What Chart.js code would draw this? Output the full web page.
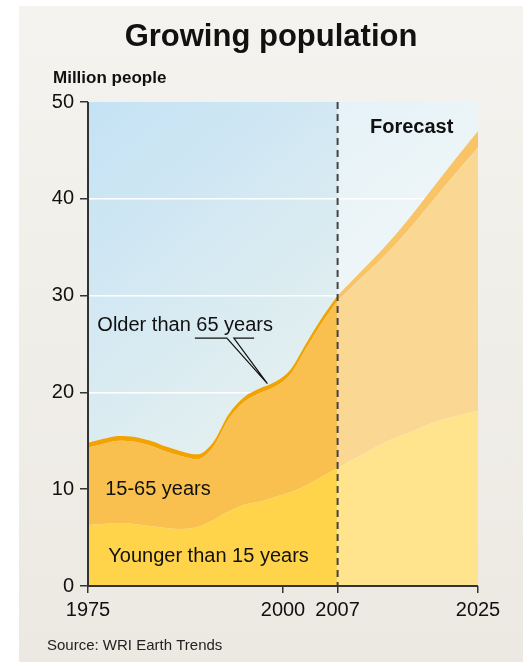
<!DOCTYPE html>
<html>
<head>
<meta charset="utf-8">
<script src="https://cdn.jsdelivr.net/npm/chart.js@4"></script>
<style>
html, body { margin: 0; padding: 0; background: #fff; }
#panel { position: absolute; left: 19px; top: 6px; width: 504px; height: 656px; background: linear-gradient(#f4f3ef, #ece9e2); }
#myChart { position: absolute; left: 0; top: 0; }
</style>
</head>
<body>
<div id="panel"></div>
<canvas id="myChart" width="523" height="662"></canvas>
<script>
// values in million people
var tickYears = [1975, 2000, 2007, 2025];
var forecastStart = 2007;

var histYears   = [1975, 1977, 1979, 1981, 1983, 1985, 1987, 1989, 1991, 1993, 1995, 1997, 1999, 2001, 2003, 2005, 2007];
var histYoung   = [6.3, 6.4, 6.5, 6.4, 6.2, 6.0, 5.9, 6.1, 6.8, 7.7, 8.4, 8.7, 9.2, 9.7, 10.4, 11.3, 12.2];
var histWorking = [8.0, 8.3, 8.5, 8.5, 8.3, 7.9, 7.5, 7.0, 7.5, 9.5, 10.6, 11.2, 11.4, 12.2, 14.2, 15.9, 17.3];
var histOlder   = [0.5, 0.5, 0.5, 0.5, 0.5, 0.5, 0.5, 0.5, 0.5, 0.5, 0.5, 0.5, 0.5, 0.5, 0.5, 0.5, 0.5];

var fcstYears   = [2007, 2010, 2013, 2016, 2019, 2022, 2025];
var fcstYoung   = [12.2, 13.5, 14.8, 15.8, 16.8, 17.5, 18.1];
var fcstWorking = [17.3, 18.3, 19.3, 20.9, 22.8, 25.0, 27.2];
var fcstOlder   = [0.5, 0.7, 0.9, 1.1, 1.3, 1.5, 1.7];

Chart.defaults.font.family = "'Liberation Sans', Arial, sans-serif";

function area(label, stack, years, vals, color, fill) {
    return {
        label: label,
        stack: stack,
        data: years.map(function (yr, i) { return { x: yr, y: vals[i] }; }),
        backgroundColor: color,
        borderWidth: 0,
        pointRadius: 0,
        fill: fill,
        cubicInterpolationMode: 'monotone'
    };
}

// plot background: blue gradient, lighter over the forecast part
var bg = {
    id: 'bg',
    beforeDraw: function (chart) {
        var a = chart.chartArea, c = chart.ctx;
        var xf = chart.scales.x.getPixelForValue(forecastStart);
        var g = c.createLinearGradient(a.left, a.top, a.right, a.bottom);
        g.addColorStop(0, '#c4e2f5');
        g.addColorStop(0.55, '#e2eff0');
        g.addColorStop(1, '#f2f5ea');
        c.save();
        c.fillStyle = g;
        c.fillRect(a.left, a.top, a.width, a.height);
        c.fillStyle = 'rgba(255,255,255,0.45)';
        c.fillRect(xf, a.top, a.right - xf, a.height);
        c.restore();
    }
};

// axes, forecast divider and all the annotation text
var overlay = {
    id: 'overlay',
    afterDatasetsDraw: function (chart) {
        var a = chart.chartArea, c = chart.ctx;
        var sx = chart.scales.x, sy = chart.scales.y;
        var px = function (v) { return sx.getPixelForValue(v); };
        var py = function (v) { return sy.getPixelForValue(v); };
        c.save();

        // forecast divider
        c.strokeStyle = '#444';
        c.lineWidth = 2;
        c.setLineDash([7, 5]);
        c.beginPath();
        c.moveTo(px(forecastStart), a.top);
        c.lineTo(px(forecastStart), a.bottom);
        c.stroke();
        c.setLineDash([]);

        // axis lines
        c.strokeStyle = '#333';
        c.lineWidth = 2;
        c.beginPath();
        c.moveTo(a.left, a.top);
        c.lineTo(a.left, a.bottom);
        c.lineTo(a.right, a.bottom);
        c.stroke();

        c.fillStyle = '#111';
        c.textAlign = 'left';
        c.textBaseline = 'alphabetic';
        c.font = "20px 'Liberation Sans', Arial, sans-serif";
        c.fillText('Older than 65 years', px(1976.2), py(26.3));
        c.fillText('15-65 years', px(1977.2), py(9.4));
        c.fillText('Younger than 15 years', px(1977.6), py(2.5));

        // leader line for the older band
        c.strokeStyle = '#111';
        c.lineWidth = 1.2;
        c.beginPath();
        c.moveTo(px(1988.7), py(25.6));
        c.lineTo(px(1992.8), py(25.6));
        c.lineTo(px(1998.0), py(20.9));
        c.lineTo(px(1993.7), py(25.6));
        c.lineTo(px(1996.3), py(25.6));
        c.stroke();

        c.font = "bold 20px 'Liberation Sans', Arial, sans-serif";
        c.textAlign = 'center';
        c.fillText('Forecast', px(2016.5), py(46.8));
        c.restore();
    },
    afterDraw: function (chart) {
        var c = chart.ctx;
        c.save();
        c.fillStyle = '#111';
        c.textBaseline = 'alphabetic';
        c.textAlign = 'center';
        c.font = "bold 31px 'Liberation Sans', Arial, sans-serif";
        c.fillText('Growing population', 271, 46);
        c.textAlign = 'left';
        c.font = "bold 17px 'Liberation Sans', Arial, sans-serif";
        c.fillText('Million people', 53, 83);
        c.font = "15px 'Liberation Sans Narrow', 'Liberation Sans', Arial, sans-serif";
        c.fillStyle = '#222';
        c.fillText('Source: WRI Earth Trends', 47, 650);
        c.restore();
    }
};

var ctx = document.getElementById('myChart').getContext('2d');
var chart = new Chart(ctx, {
    type: 'line',
    data: {
        datasets: [
            area('Younger than 15 years', 'hist', histYears, histYoung, '#ffd44b', 'origin'),
            area('15-65 years', 'hist', histYears, histWorking, '#f9c04f', '-1'),
            area('Older than 65 years', 'hist', histYears, histOlder, '#f2a300', '-1'),
            area('Younger than 15 years (forecast)', 'fcst', fcstYears, fcstYoung, '#ffe38d', 'origin'),
            area('15-65 years (forecast)', 'fcst', fcstYears, fcstWorking, '#fbd794', '-1'),
            area('Older than 65 years (forecast)', 'fcst', fcstYears, fcstOlder, '#f8c466', '-1')
        ]
    },
    options: {
        responsive: false,
        animation: false,
        layout: { padding: { left: 38, right: 45, top: 102, bottom: 36 } },
        plugins: { legend: { display: false }, tooltip: { enabled: false } },
        scales: {
            x: {
                type: 'linear',
                min: 1975,
                max: 2025,
                afterBuildTicks: function (s) { s.ticks = tickYears.map(function (v) { return { value: v }; }); },
                afterFit: function (s) { s.height = 40; },
                grid: { drawOnChartArea: false, tickLength: 7, tickColor: '#333', lineWidth: 1.5 },
                border: { display: false },
                ticks: {
                    font: { size: 20 }, color: '#111', padding: 5, maxRotation: 0, autoSkip: false,
                    callback: function (v) { return String(v); }
                }
            },
            y: {
                stacked: true,
                min: 0,
                max: 50,
                afterFit: function (s) { s.width = 50; },
                grid: {
                    color: function (c) { return (c.tick.value > 0 && c.tick.value < 50) ? '#ffffff' : 'rgba(0,0,0,0)'; },
                    tickColor: '#333',
                    tickLength: 8,
                    lineWidth: 1.5
                },
                border: { display: false },
                ticks: { stepSize: 10, font: { size: 20 }, color: '#111', padding: 6 }
            }
        }
    },
    plugins: [bg, overlay]
});
</script>
</body>
</html>
